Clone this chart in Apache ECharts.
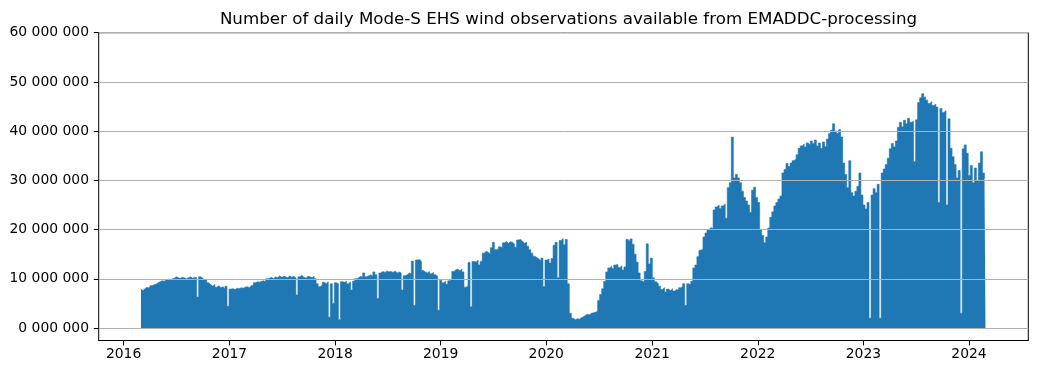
<!DOCTYPE html>
<html>
<head>
<meta charset="utf-8">
<script src="https://cdn.jsdelivr.net/npm/echarts@6/dist/echarts.min.js"></script>
<style>
html,body{margin:0;padding:0;background:#fff;}
#chart{width:1040px;height:371px;}
</style>
</head>
<body>
<div id="chart"></div>
<script>
// Weekly readings (millions of observations per day), starting 2016-03-01, one value every 7 days
const startDate = Date.UTC(2016, 2, 1);
const stepDays = 7;
const counts2016 = [7.9,7.6,8.0,8.3,8.1,8.6,8.8,8.9,9.2,9.4,9.6,9.5,9.8,9.9,9.7,10.0,10.1,10.4,10.2,10.1,10.3,10.2,10.0,10.2,10.4,10.1,10.3,10.2,6.3,10.4,10.1,9.8,9.9,9.2,8.8,8.5,8.9,8.3,8.6,8.2,8.4,8.0,8.5,4.4];
const counts2017 = [7.9,8.0,7.8,8.1,8.0,8.2,8.1,8.3,8.4,8.2,8.6,8.7,9.2,9.4,9.3,9.5,9.6,9.4,10.0,10.1,10.3,10.0,10.4,10.2,10.6,10.3,10.5,10.4,10.2,10.6,10.3,10.5,10.2,6.7,10.4,10.7,10.3,10.1,10.5,10.4,10.2,10.5,10.0,9.0,8.4,8.7,9.3,9.0,9.4,2.2,9.0,5.0];
const counts2018 = [9.2,9.0,1.7,9.4,9.3,9.5,9.0,9.4,7.7,9.5,10.0,10.2,10.5,10.3,11.2,10.4,10.6,10.8,10.5,11.4,10.8,6.0,11.2,11.5,11.3,11.6,11.4,11.5,11.3,11.6,11.2,11.4,11.2,7.7,10.6,10.8,11.2,11.0,13.6,4.6,13.8,13.9,13.5,11.7,11.4,11.2,11.5,11.0,11.3,10.8,10.5,3.6];
const counts2019 = [9.7,9.2,9.5,8.9,9.6,9.8,11.5,11.8,12.0,11.6,12.0,11.4,8.3,8.5,13.3,4.3,13.5,13.4,13.8,12.8,13.5,15.2,15.6,15.4,15.0,16.3,17.4,15.9,16.0,16.5,16.3,17.3,17.6,17.2,17.5,17.4,17.0,16.4,17.9,18.0,17.6,17.2,17.4,16.6,15.9,15.2,14.6,14.3,14.0,13.6,14.2,8.4,13.8];
const counts2020 = [14.0,13.2,14.1,16.8,17.4,10.2,17.8,18.2,16.9,18.0,9.0,3.0,2.0,1.7,1.9,1.8,2.1,2.3,2.6,2.8,2.7,3.0,3.1,3.2,3.4,5.6,6.8,8.0,9.5,11.4,12.2,12.6,12.1,12.8,12.9,12.3,12.6,11.8,12.4,18.0,17.6,18.1,17.0,15.0,13.4,11.2,9.6,9.3,11.5,17.1,13.0,14.2];
const counts2021 = [10.2,9.4,9.0,8.5,7.8,8.2,7.3,7.9,7.6,8.0,7.5,7.8,7.7,8.2,8.4,9.0,4.6,9.0,8.8,9.5,12.2,12.8,14.5,15.8,16.0,18.5,19.3,20.0,20.4,20.2,24.0,24.6,25.0,24.3,24.8,25.2,22.3,28.5,29.5,38.8,30.5,31.2,30.5,29.5,27.8,26.5,25.8,25.0,23.5,28.0,28.6,26.5];
const counts2022 = [25.5,20.0,18.8,17.3,18.5,20.3,22.5,23.6,24.8,25.5,26.2,26.8,31.5,32.2,33.4,32.8,33.5,34.0,34.4,35.2,36.5,37.0,37.4,36.8,37.6,37.2,38.0,37.5,38.2,37.0,37.6,36.5,37.8,36.9,38.4,39.5,40.2,41.5,40.0,39.5,40.3,38.8,33.5,31.2,28.5,34.0,27.5,26.8,27.8,28.8,31.5,27.0];
const counts2023 = [25.0,24.2,25.5,2.0,27.0,28.3,27.5,29.2,2.0,31.5,32.3,33.2,34.5,36.4,37.5,36.8,38.0,40.8,41.8,40.9,42.2,41.5,42.6,41.8,42.0,33.8,42.3,45.8,46.8,47.6,46.9,46.3,45.6,46.0,45.2,45.5,44.9,25.5,44.6,43.8,44.2,25.0,42.5,36.5,34.8,33.2,30.5,32.0,3.0,36.4,37.2,35.5];
const counts2024 = [31.0,33.0,29.5,32.5,30.0,33.5,35.8,31.5,30.5];
const yTicks = [0, 10000000, 20000000, 30000000, 40000000, 50000000, 60000000];
const titleText = 'Number of daily Mode-S EHS wind observations available from EMADDC-processing';

const MILLION = 1e6;
const allCounts = [].concat(counts2016, counts2017, counts2018, counts2019, counts2020, counts2021, counts2022, counts2023, counts2024);
const seriesData = allCounts.map((v, i) => [startDate + i * stepDays * 86400000, v * MILLION]);

function fmtNum(v) {
  let s = String(Math.round(v));
  while (s.length < 7) s = '0' + s;
  let out = '';
  for (let k = s.length; k > 0; k -= 3) {
    const part = s.substring(Math.max(0, k - 3), k);
    out = out ? part + ' ' + out : part;
  }
  return out;
}

const FONT = 'DejaVu Sans';
const L = 98.7, R = 1040 - 1028.3, T = 32.7;
const xMin = Date.UTC(2015, 9, 7), xMax = Date.UTC(2024, 6, 24);

const chart = echarts.init(document.getElementById('chart'), null, {renderer: 'canvas'});
chart.setOption({
  animation: false,
  backgroundColor: '#ffffff',
  textStyle: {fontFamily: FONT},
  title: {
    text: titleText,
    left: (L + 1028.3) / 2,
    textAlign: 'center',
    top: 6,
    textStyle: {fontFamily: FONT, fontSize: 16.7, fontWeight: 'normal', color: '#000'}
  },
  grid: [
    {left: L, right: R, top: T, bottom: 371 - 340.5, show: true, borderColor: '#000', borderWidth: 1, backgroundColor: 'transparent', containLabel: false},
    {left: L, right: R, top: T, bottom: 371 - 328, show: false, containLabel: false}
  ],
  xAxis: [
    {
      type: 'time', gridIndex: 0, min: xMin, max: xMax,
      minInterval: 365 * 86400000, maxInterval: 366 * 86400000,
      axisLine: {show: true, lineStyle: {color: '#000', width: 1}},
      axisTick: {show: true, length: 4.9, inside: false, lineStyle: {color: '#000', width: 1}},
      axisLabel: {show: true, margin: 7, color: '#000', fontFamily: FONT, fontSize: 13.9,
        formatter: function (v) { return String(new Date(v).getUTCFullYear()); }},
      splitLine: {show: false},
      minorTick: {show: false}
    },
    {
      type: 'time', gridIndex: 1, min: xMin, max: xMax, show: false
    }
  ],
  yAxis: [
    {type: 'value', gridIndex: 0, min: 0, max: 1, show: false},
    {
      type: 'value', gridIndex: 1, min: yTicks[0], max: yTicks[yTicks.length - 1], interval: yTicks[1] - yTicks[0],
      z: 5,
      axisLine: {show: false},
      axisTick: {show: true, length: 4.9, lineStyle: {color: '#000', width: 1}},
      axisLabel: {show: true, margin: 9.7, color: '#000', fontFamily: FONT, fontSize: 13.9, formatter: fmtNum},
      splitLine: {show: true, lineStyle: {color: '#b0b0b0', width: 1}}
    }
  ],
  series: [{
    type: 'line',
    xAxisIndex: 1, yAxisIndex: 1,
    data: seriesData,
    step: 'middle',
    showSymbol: false,
    symbol: 'none',
    lineStyle: {width: 0.6, color: '#1f77b4'},
    areaStyle: {color: '#1f77b4', opacity: 1, origin: 'start'},
    z: 2
  }]
});
</script>
</body>
</html>
